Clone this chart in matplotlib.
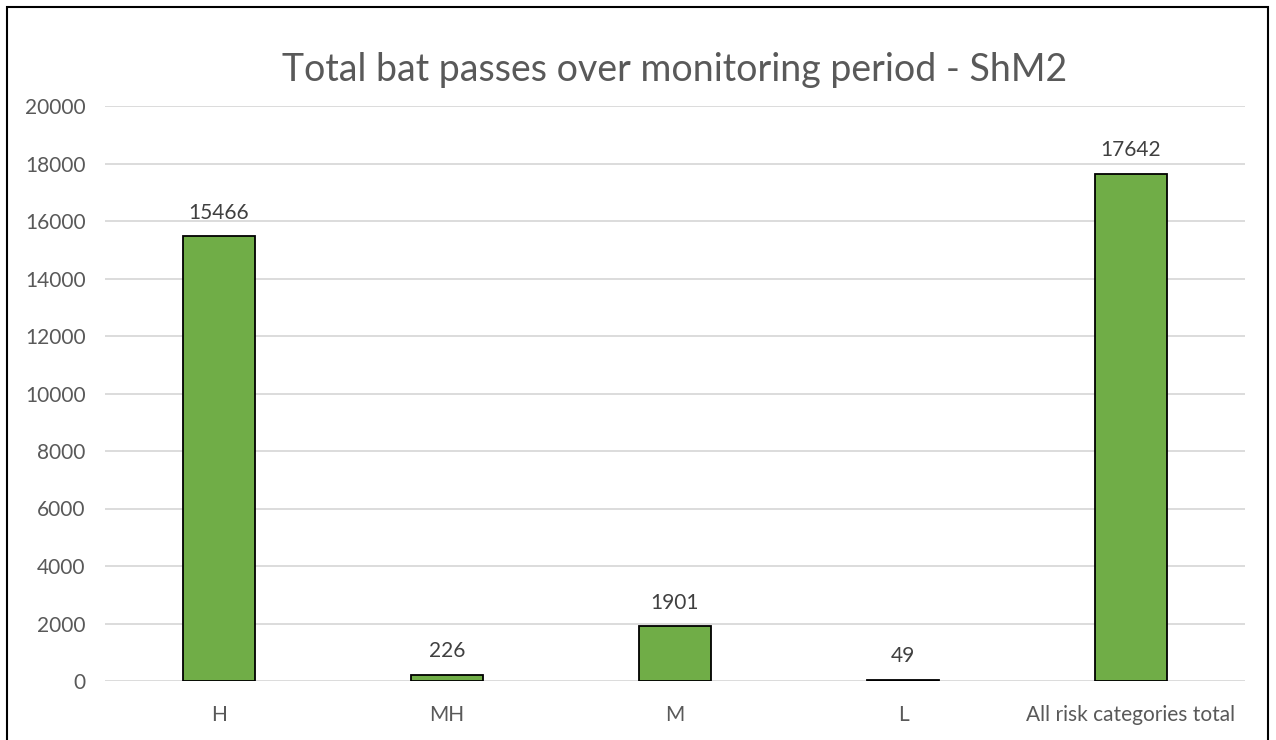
import matplotlib
matplotlib.use("Agg")
import matplotlib.pyplot as plt
from matplotlib.patches import Rectangle

categories = ["H", "MH", "M", "L", "All risk categories total"]
values = [15466, 226, 1901, 49, 17642]
yticks = [0, 2000, 4000, 6000, 8000, 10000, 12000, 14000, 16000, 18000, 20000]
title = "Total bat passes over monitoring period - ShM2"

plt.rcParams['font.family'] = ['Lato', 'DejaVu Sans']
txt = "#595959"

fig = plt.figure(figsize=(12.76, 7.40), dpi=100)
ax = fig.add_axes([105/1276, 1-681/740, 1140/1276, 575/740])

x = list(range(len(categories)))
ax.bar(x, values, width=0.316, color="#70AD47", edgecolor="black", linewidth=1.3, zorder=3)
for xi, v in zip(x, values):
    ax.annotate(str(v), (xi, v), xytext=(0, 17), textcoords="offset points",
                ha="center", va="center", fontsize=15, color="#404040")

ax.set_xlim(-0.5, len(categories) - 0.5)
ax.set_ylim(0, 20000)
ax.set_yticks(yticks)
ax.set_yticklabels([str(t) for t in yticks])
ax.set_xticks(x)
ax.set_xticklabels(categories)
ax.tick_params(axis="both", length=0, labelsize=15, labelcolor=txt)
ax.tick_params(axis="y", pad=14)
ax.tick_params(axis="x", pad=17)
ax.grid(axis="y", color="#D9D9D9", linewidth=1.3, zorder=0)
ax.set_axisbelow(True)
for s in ax.spines.values():
    s.set_visible(False)

fig.text(675/1276, 1-70/740, title, ha="center", va="center", fontsize=27, color=txt)

fig.patches.append(Rectangle((7/1276, -0.05), 1261/1276, 1.05 - 7/740, transform=fig.transFigure,
                             fill=False, edgecolor="black", linewidth=1.5))

fig.savefig("out.png", dpi=100)
